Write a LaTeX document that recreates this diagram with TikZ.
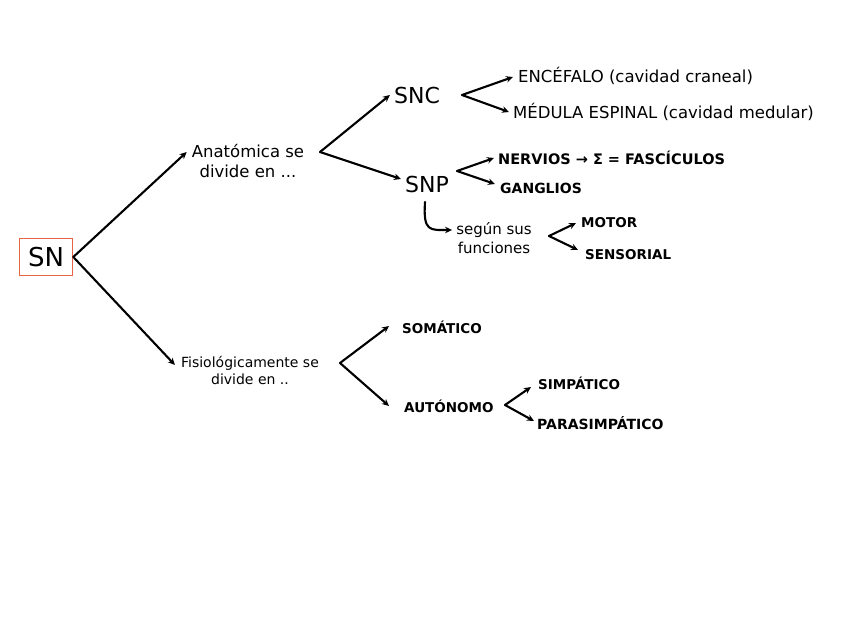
\documentclass[tikz,border=0pt]{standalone}
\usepackage{fontspec}
\setmainfont{DejaVu Sans}
\usetikzlibrary{arrows.meta}
\definecolor{snred}{RGB}{232,100,70}
\begin{document}
\begin{tikzpicture}[x=1pt,y=-1pt,
  arr/.style={-{Stealth[length=7pt,width=6.5pt]}, line width=2.1pt, line cap=round, line join=round},
  hand/.style={inner sep=1pt, anchor=west, font=\fontsize{16.5}{18}\selectfont},
  mid/.style={inner sep=1pt, align=center, font=\fontsize{14}{17}\selectfont},
  big/.style={inner sep=1pt, font=\fontsize{22}{24}\selectfont},
  caps/.style={inner sep=1pt, anchor=west, font=\bfseries\fontsize{13.5}{15}\selectfont}]
\useasboundingbox (0,0) rectangle (848,635);

% nodes
\node[draw=snred, line width=1.6pt, minimum width=53pt, minimum height=37pt, inner sep=0pt,
      font=\fontsize{26}{28}\selectfont] (sn) at (46,257) {SN};
\node[mid, font=\fontsize{16.5}{20}\selectfont] (anat) at (248,161) {Anatómica se\\divide en ...};
\node[mid] (fis) at (250,370) {Fisiológicamente se\\divide en ..};
\node[big] (snc) at (417,95) {SNC};
\node[big] (snp) at (427,184) {SNP};
\node[hand] (enc) at (517,76) {ENCÉFALO (cavidad craneal)};
\node[hand] (med) at (512,112) {MÉDULA ESPINAL (cavidad medular)};
\node[caps, font=\bfseries\fontsize{14.5}{16}\selectfont] (ner) at (497,158) {NERVIOS → Σ = FASCÍCULOS};
\node[caps, font=\bfseries\fontsize{14}{16}\selectfont] (gan) at (499,188) {GANGLIOS};
\node[mid, font=\fontsize{15}{19}\selectfont] (seg) at (494,238) {según sus\\funciones};
\node[caps] (mot) at (580,223) {MOTOR};
\node[caps] (sen) at (584,255) {SENSORIAL};
\node[caps] (som) at (401,327) {SOMÁTICO};
\node[caps] (aut) at (403,406) {AUTÓNOMO};
\node[caps] (sim) at (537,383) {SIMPÁTICO};
\node[caps, font=\bfseries\fontsize{14}{16}\selectfont] (par) at (536,423) {PARASIMPÁTICO};

% fork points
\coordinate (fa) at (320,152);
\coordinate (ff) at (340,363);
\coordinate (fc) at (462,95);
\coordinate (fp) at (457,171);
\coordinate (fs) at (549,236);
\coordinate (fu) at (505,405);
\coordinate (pd) at (425,202);

% connectors
\draw[arr] (sn.east) -- ([shift={(-4,-9)}]anat.west);
\draw[arr] (sn.east) -- ([shift={(-5,-5)}]fis.west);
\draw[arr] (fa) -- ([xshift=-3pt]snc.west);
\draw[arr] (fa) -- ([shift={(-3,-5)}]snp.west);
\draw[arr] (fc) -- ([shift={(-4,1)}]enc.west);
\draw[arr] (fc) -- ([shift={(-3,0)}]med.west);
\draw[arr] (fp) -- ([xshift=-3pt]ner.west);
\draw[arr] (fp) -- ([shift={(-4,-4)}]gan.west);
\draw[arr] (pd) .. controls (423,232) and (430,230) .. ([shift={(-3,-8)}]seg.west);
\draw[arr] (fs) -- ([xshift=-4pt]mot.west);
\draw[arr] (fs) -- ([shift={(-6,-5)}]sen.west);
\draw[arr] (ff) -- ([shift={(-12,-1)}]som.west);
\draw[arr] (ff) -- ([shift={(-14,0)}]aut.west);
\draw[arr] (fu) -- ([shift={(-6,4)}]sim.west);
\draw[arr] (fu) -- ([shift={(-2,-2)}]par.west);
\end{tikzpicture}
\end{document}
